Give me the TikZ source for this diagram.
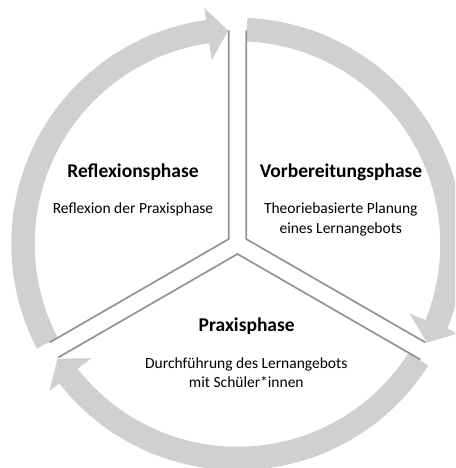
\documentclass[tikz,border=0pt]{standalone}
\usepackage{fontspec}
\setmainfont{Carlito}
\usetikzlibrary{calc}
\definecolor{ringgray}{HTML}{D0D0D0}
\definecolor{edgegray}{HTML}{939393}
\begin{document}
\begin{tikzpicture}[x=1pt,y=1pt,
  edge/.style={draw=edgegray, line width=1.7pt, line join=miter},
  phasetitle/.style={font=\bfseries\fontsize{19.5}{23}\selectfont, anchor=base, inner sep=0pt},
  phasetext/.style={font=\fontsize{15.5}{19}\selectfont, anchor=base, inner sep=0pt}]
\useasboundingbox (-237.5,-224) rectangle (217.5,244);
\clip (-237.5,-224) rectangle (217.5,244);

% three curved arrows forming the clockwise cycle
\foreach \sA in {207.5, 87.5, -32.5} {
  \pgfmathsetmacro\tipA{\sA-115}
  \pgfmathsetmacro\baseA{\tipA+5.5}
  \fill[ringgray] (\sA:226.25) arc[start angle=\sA, end angle=\baseA, radius=226.25]
    -- (\baseA:238.5) -- (\tipA:213.5) -- (\baseA:185.5) -- (\baseA:202.75)
    arc[start angle=\baseA, end angle=\sA, radius=202.75] -- cycle;
}

% corners of the three separated sectors
\coordinate (refapex) at (150:10);
\coordinate (reftop) at ($(refapex)+(90:208.5)$);
\coordinate (refend) at ($(refapex)+(210:207)$);
\coordinate (vorapex) at (30:10);
\coordinate (vortop) at ($(vorapex)+(90:208.5)$);
\coordinate (vorend) at ($(vorapex)+(-30:207)$);
\coordinate (praxapex) at (270:10);
\coordinate (praxleft) at ($(praxapex)+(210:207)$);
\coordinate (praxright) at ($(praxapex)+(-30:211)$);

\draw[edge] (reftop) -- (refapex) -- (refend);
\draw[edge] (vortop) -- (vorapex) -- (vorend);
\draw[edge] (praxleft) -- (praxapex) -- (praxright);

% phase labels
\node[phasetitle] (reftitle) at (-104.5,66.7) {Reflexionsphase};
\node[phasetext] (refbody) at (-104.5,30.7) {Reflexion der Praxisphase};

\node[phasetitle] (vortitle) at (103.5,66.7) {Vorbereitungsphase};
\node[phasetext] (vorbodya) at (103.3,30.7) {Theoriebasierte Planung};
\node[phasetext] (vorbodyb) at (103.3,10.7) {eines Lernangebots};

\node[phasetitle] (praxtitle) at (9.2,-87.7) {Praxisphase};
\node[phasetext] (praxbodya) at (8.8,-124.3) {Durchführung des Lernangebots};
\node[phasetext] (praxbodyb) at (8.8,-143.7) {mit Schüler*innen};
\end{tikzpicture}
\end{document}
